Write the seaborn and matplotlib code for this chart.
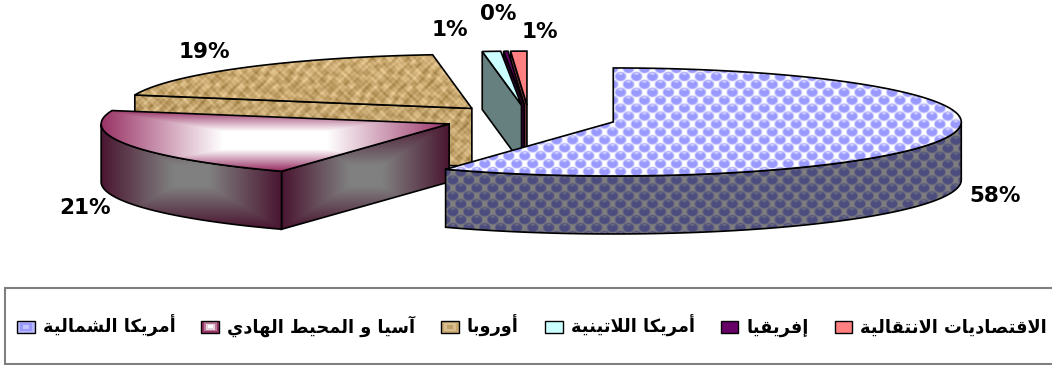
import numpy as np
import matplotlib
matplotlib.use("Agg")
import matplotlib.pyplot as plt
import seaborn as sns
from matplotlib.font_manager import FontProperties
from matplotlib.legend_handler import HandlerBase
from matplotlib.patches import Patch, Polygon, Rectangle

# Share of each region, in percent
regions = ["أمريكا الشمالية", "آسيا و المحيط الهادي", "أوروبا",
           "أمريكا اللاتينية", "إفريقيا", "الاقتصاديات الانتقالية"]
shares = [58.0, 21.0, 19.2, 0.85, 0.2, 0.75]

# Flat colours of the slices
region_colors = ["#9999FF", "#993366", "#CDAE7C", "#CCFFFF", "#660066", "#FF8080"]

# Layout of the extruded pie, in figure pixels
CENTER = (529.0, 118.6)
RX, RY, DEPTH = 348.0, 54.0, 58.0
EXPLODE = 0.25
PAINT_ORDER = [2, 5, 4, 3, 1, 0]
LABEL_XY = [(995, 196), (85, 208), (204, 52), (450, 30), (498, 14), (540, 32)]

# Arabic shaping: matplotlib lays text out left to right without joining letters
FORMS = {"ا": (0xFE8D, 2), "أ": (0xFE83, 2), "إ": (0xFE87, 2), "آ": (0xFE81, 2),
         "ب": (0xFE8F, 4), "ة": (0xFE93, 2), "ت": (0xFE95, 4), "ح": (0xFEA1, 4),
         "د": (0xFEA9, 2), "ر": (0xFEAD, 2), "س": (0xFEB1, 4), "ش": (0xFEB5, 4),
         "ص": (0xFEB9, 4), "ط": (0xFEC1, 4), "ف": (0xFED1, 4), "ق": (0xFED5, 4),
         "ك": (0xFED9, 4), "ل": (0xFEDD, 4), "م": (0xFEE1, 4), "ن": (0xFEE5, 4),
         "ه": (0xFEE9, 4), "و": (0xFEED, 2), "ي": (0xFEF1, 4)}
LAM_ALEF = {"ا": 0xFEFB, "أ": 0xFEF7, "إ": 0xFEF9, "آ": 0xFEF5}


def shape_arabic(text):
    out = []
    for word in text.split(" "):
        glyphs, prev_joins, i = [], False, 0
        while i < len(word):
            ch = word[i]
            nxt = word[i + 1] if i + 1 < len(word) else None
            if ch == "ل" and nxt in LAM_ALEF:
                glyphs.append(chr(LAM_ALEF[nxt] + (1 if prev_joins else 0)))
                prev_joins, i = False, i + 2
                continue
            base, count = FORMS[ch]
            joins_next = count == 4 and nxt is not None
            if prev_joins and joins_next:
                code = base + 3
            elif prev_joins:
                code = base + 1
            elif joins_next:
                code = base + 2
            else:
                code = base
            glyphs.append(chr(code))
            prev_joins, i = joins_next, i + 1
        out.append("".join(reversed(glyphs)))
    return " ".join(reversed(out))


# Surface fills, evaluated on pixel grids
def rgb(hex_color):
    return np.array(matplotlib.colors.to_rgb(hex_color))


def bubbles(X, Y, box, shade=1.0):
    img = np.ones(X.shape + (3,))
    for ox, oy in ((4, 4), (12, 12)):
        dx = (X - ox + 8) % 16 - 8
        dy = (Y - oy + 8) % 16 - 8
        ball = np.clip((1.15 - np.hypot(dx / 5.6, dy / 4.7)) * 3, 0, 1)[..., None]
        img = img * (1 - ball) + rgb("#9999FF") * ball
        glint = np.clip(1.5 - np.hypot(dx / 2.0, (dy + 2.8) / 1.0), 0, 1)[..., None]
        img = img * (1 - glint) + rgb("#D8D8FF") * glint
    return img * shade


def burlap(X, Y, box, shade=1.0):
    weave = 0.5 * np.sin(X * 1.05) * np.sin(Y * 1.05) + 0.3 * np.sin(X * 0.52 + Y * 0.31)
    blotch = np.sin(X * 0.37 + 1.3 * np.sin(Y * 0.29)) * np.sin(Y * 0.43 + 1.7 * np.sin(X * 0.19))
    amount = (0.11 * weave + 0.09 * blotch)[..., None]
    return np.clip((rgb("#C9A970") + amount * np.array([1.0, 1.05, 1.15])) * shade, 0, 1)


def box_gradient(center, edge, inset):
    def fill(X, Y, box):
        x0, x1, y0, y1 = box
        u = np.abs((X - (x0 + x1) / 2) / ((x1 - x0) / 2))
        v = np.abs((Y - (y0 + y1) / 2) / ((y1 - y0) / 2))
        t = np.clip((np.maximum(u, v) - inset) / (1 - inset), 0, 1)[..., None]
        return rgb(center) * (1 - t) + rgb(edge) * t
    return fill


def solid(color):
    return lambda X, Y, box: np.broadcast_to(rgb(color), X.shape + (3,))


def half(color):
    return solid(tuple(rgb(color) * 0.5))


top_fills = [bubbles, box_gradient("#FFFFFF", "#993366", 0.3), burlap,
             solid(region_colors[3]), solid(region_colors[4]), solid(region_colors[5])]
side_fills = [lambda X, Y, box: bubbles(X, Y, box, 0.5),
              box_gradient("#808080", "#4A1631", 0.2),
              lambda X, Y, box: burlap(X, Y, box, 0.97),
              half(region_colors[3]), half(region_colors[4]), half(region_colors[5])]


def paint(ax, points, fill):
    points = np.asarray(points)
    x0, y0 = points.min(axis=0)
    x1, y1 = points.max(axis=0)
    xs, ys = np.arange(x0, x1 + 1), np.arange(y0, y1 + 1)
    X, Y = np.meshgrid(xs, ys)
    outline = Polygon(points, closed=True, facecolor="none", edgecolor="black",
                      linewidth=1.2, joinstyle="miter", zorder=3)
    ax.add_patch(outline)
    image = ax.imshow(fill(X, Y, (x0, x1, y0, y1)), extent=(x0, x1, y1, y0), origin="upper",
                      aspect="auto", interpolation="bilinear", zorder=3)
    image.set_clip_path(outline)
    # The stroke has to land above its own fill, so later slices still cover it
    image.set_zorder(ax._paint_level)
    outline.set_zorder(ax._paint_level + 0.5)
    ax._paint_level += 1


def draw_slice(ax, start, stop, top_fill, side_fill):
    mid = np.radians((start + stop) / 2)
    cx = CENTER[0] + EXPLODE * RX * np.sin(mid)
    cy = CENTER[1] - EXPLODE * RY * np.cos(mid)

    def rim(a, b):
        t = np.radians(np.linspace(a, b, max(int(abs(b - a) * 2), 2) + 1))
        return np.column_stack([cx + RX * np.sin(t), cy - RY * np.cos(t)])

    drop = np.array([0, DEPTH])
    apex = np.array([[cx, cy]])
    if np.sin(np.radians(start)) < -1e-6:
        edge = rim(start, start)[:1]
        paint(ax, np.vstack([apex, edge, edge + drop, apex + drop]), side_fill)
    if np.sin(np.radians(stop)) > 1e-6:
        edge = rim(stop, stop)[:1]
        paint(ax, np.vstack([apex, edge, edge + drop, apex + drop]), side_fill)
    low, high = max(start, 90), min(stop, 270)
    if high > low:
        arc = rim(low, high)
        paint(ax, np.vstack([arc, arc[::-1] + drop]), side_fill)
    paint(ax, np.vstack([apex, rim(start, stop)]), top_fill)


class NestedSwatch(HandlerBase):
    """Legend key made of concentric boxes, giving a small shaded swatch."""

    def __init__(self, colors):
        super().__init__()
        self.colors = colors

    def create_artists(self, legend, orig_handle, xdescent, ydescent, width, height, fontsize, trans):
        artists = []
        n = len(self.colors)
        for i, color in enumerate(self.colors):
            f = i / (2 * n)
            artists.append(Rectangle((-xdescent + f * width, -ydescent + f * height),
                                     width * (1 - 2 * f), height * (1 - 2 * f),
                                     facecolor=color, edgecolor="none", transform=trans))
        artists.append(Rectangle((-xdescent, -ydescent), width, height, facecolor="none",
                                 edgecolor="black", linewidth=1.0, transform=trans))
        return artists


sns.set_theme(style="white", palette=sns.color_palette(region_colors))
plt.rcParams["font.family"] = ["DejaVu Sans"]

fig = plt.figure(figsize=(10.52, 3.65), dpi=100, facecolor="white")
ax = fig.add_axes([0, 0, 1, 1])
ax._paint_level = 3

edges = np.concatenate([[0], np.cumsum(shares)]) / np.sum(shares) * 360
for i in PAINT_ORDER:
    draw_slice(ax, edges[i], edges[i + 1], top_fills[i], side_fills[i])

ax.set_xlim(0, 1052)
ax.set_ylim(365, 0)
ax.axis("off")

for value, (x, y) in zip(shares, LABEL_XY):
    ax.text(x, y, f"{value:.0f}%", ha="center", va="center", fontsize=15.5,
            fontweight="bold", color="black", zorder=500)

# Legend frame runs off the right side of the figure
ax.add_patch(Rectangle((5, 288), 1100, 76, facecolor="white", edgecolor="#7F7F7F",
                       linewidth=1.5, zorder=1))

swatches = [["#B9B9FF", "#9999FF", "#C4C4FF"],
            ["#993366", "#B87A98", "#E6D2DC", "#FFFFFF"],
            ["#C9A86F", "#D8BE8E", "#BFA06A"],
            ["#CCFFFF"], ["#660066"], ["#FF8080"]]
handles = [Patch(facecolor=c, edgecolor="black") for c in region_colors]
ax.legend(handles, [shape_arabic(r) for r in regions],
          handler_map={h: NestedSwatch(s) for h, s in zip(handles, swatches)},
          loc="center left", bbox_to_anchor=(17, 326), bbox_transform=ax.transData,
          ncol=6, frameon=False, borderpad=0, borderaxespad=0, handlelength=1.0,
          handleheight=0.68, handletextpad=0.45, columnspacing=1.46,
          prop=FontProperties(family="DejaVu Sans", weight="bold", size=12.8),
          labelcolor="black").set_zorder(600)

fig.savefig("out.png", dpi=100, facecolor="white")
